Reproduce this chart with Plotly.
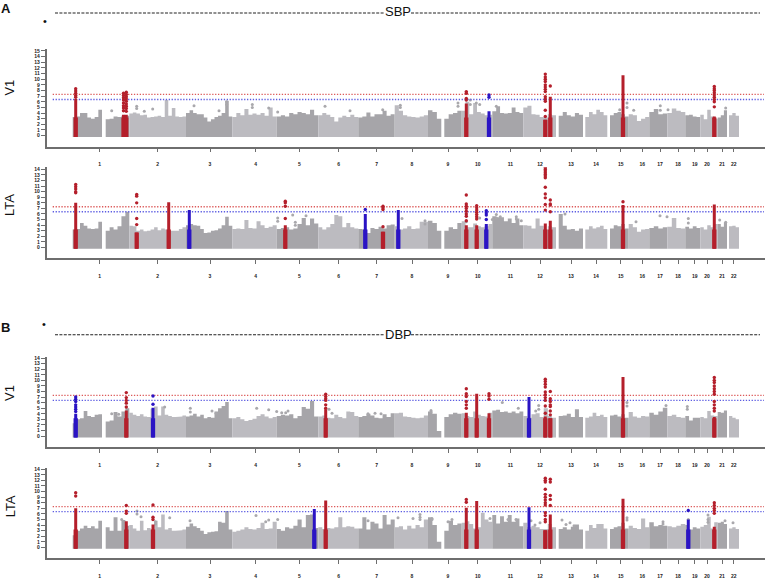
import numpy as np
import plotly.graph_objects as go

# genome scale: chromosome blocks (start, end, shade)
BLOCK_START = [72.7,105.7,129.3,186,232.3,276.7,318.3,358.3,394.7,428,444.3,461.7,492.3,523.3,558.7,585.3,610,628.7,649.3,667.3,685.3,700.3,717.7,729]
BLOCK_END = [102,129.3,186,232.3,276.7,318.3,358.3,394.7,428,441.3,461.7,492.3,523.3,556,583,607.3,628.7,649.3,667.3,685.3,700.3,717.7,727,739]
BLOCK_SHADE = [0,0,1,0,1,0,1,0,1,0,0,1,0,1,0,1,0,1,0,1,0,1,0,1]

CHROM_LABELS = [str(i) for i in range(1, 23)]
CHROM_TICKS = [99.7,157.7,210,255.7,299.3,338.7,376.7,412,448,477.7,510.3,540,571,596,620.7,642.3,660,678,694.7,707,722,733.7]

SIG_LINE = 7.3
SUG_LINE = 6.4
PEAK_FOOT = 3.2

# Panel A, V1
sky_a1 = [
 [3.3,3.4,4.0,4.0,3.2,3.0,3.3,4.6],
 [2.9,3.0,3.4,3.3,3.5,3.5],
 [3.9,4.1,3.9,3.6,3.7,3.2,3.3,3.4,3.5,3.3,6.3,3.5,4.9,3.4,3.3,3.4],
 [4.0,4.5,4.0,3.8,3.8,3.2,2.5,2.9,3.3,3.5,4.0,6.2,3.4],
 [3.3,4.0,3.6,4.7,3.7,3.9,3.7,4.0,3.5,5.0,3.4],
 [3.4,3.6,3.4,4.0,3.8,4.2,4.0,3.8,4.6,3.6],
 [3.6,4.0,3.7,3.3,2.5,3.2,3.5,3.3,3.7,3.3],
 [3.2,3.4,4.1,3.4,3.8,3.8,4.4,3.5,3.8],
 [5.4,4.4,3.6,3.4,3.3,3.2,3.4,3.6],
 [4.5,4.2,3.0],
 [3.0,3.8,4.0,4.4],
 [4.4,6.0,3.8,5.8,4.2,3.9,3.6,3.7],
 [4.3,5.2,4.0,3.9,4.0,5.0,4.2,4.0],
 [5.0,5.3,3.8,3.7,3.3,3.2,3.8,3.6],
 [3.5,4.2,3.6,3.4,4.0,3.7],
 [3.3,4.2,3.8,4.6,4.2,3.6],
 [3.6,4.0,4.2,3.8,3.4],
 [3.8,3.6,2.6,3.0,3.3],
 [4.2,4.7,3.8,3.9],
 [4.0,4.8,4.4,4.2],
 [3.6,3.7,3.4,3.3],
 [3.7,2.9,4.6,3.4,3.0],
 [3.2,3.6,4.5],
 [3.6,4.0,3.5],
]
out_a1_x = [111.7,136.7,136.7,144.3,152.7,194,219,226.7,226.7,252.3,252.3,268.7,277.7,325,350,382.7,400.3,400.3,458,458,470.3,470.3,476.3,479.7,496.3,619.7,627,627,633.7,660.3,660.3,668,725.7]
out_a1_y = [4.4,5.2,4.8,4.3,4.7,5.3,4.4,5.5,6.0,5.5,5.0,4.9,4.2,5.2,4.4,4.6,5.4,5.0,5.8,5.2,6.3,5.5,5.8,5.5,5.2,4.6,5.8,5.0,4.5,5.3,4.5,4.6,4.9]
peak_a1_x = [75.7,123.5,126.3,466.3,489,545.3,550.3,623,714.3]
peak_a1_solid = [6.5,3.7,3.7,5.7,4.3,2.8,6.9,10.7,3.4]
peak_a1_group = [1,1,1,1,0,1,1,1,1]
peak_a1_dots = [[8.3,7.9,7.5,7.1,6.8],[7.5,7.1,6.7,6.3,5.8,5.3,4.9,4.4],[7.7,7.3,6.9,6.5,6.1,5.6,5.2,4.8,4.3],[7.8,7.5,6.6,6.3],[7.2,6.8],[10.9,10.4,10.0,9.6,9.0,8.6,8.2,7.8,6.9,6.5,6.1,4.5,3.4],[8.8],[],[8.7,8.3,8.0,7.6,7.2,6.8,6.4,6.0,5.1]]

# Panel A, LTA
sky_a2 = [
 [3.2,3.3,4.4,3.9,3.4,3.3,3.4,4.6],
 [3.0,3.6,3.2,3.8,5.6,6.4],
 [3.9,3.8,3.0,3.2,2.9,3.0,3.2,3.6,3.1,3.4,3.2,3.0,3.0,3.0,3.3,3.6],
 [4.0,4.2,4.0,3.9,3.3,2.6,2.7,3.0,3.1,3.4,4.0,5.5,3.9],
 [3.3,3.4,3.3,4.9,3.5,3.4,4.7,4.0,3.5,3.7,4.0],
 [3.3,3.5,3.6,3.2,3.4,4.2,5.3,4.0,5.2,4.3],
 [3.6,3.2,3.6,4.2,5.8,5.6,3.6,4.4,3.6,3.4],
 [3.3,3.2,2.6,3.5,3.3,3.7,3.4,4.0,4.1],
 [3.8,3.2,3.4,3.8,3.3,3.4,4.6,4.6],
 [4.8,4.4,3.0],
 [3.0,3.6,3.3,4.4],
 [4.7,3.6,3.6,4.3,3.8,3.6,3.8,4.2],
 [5.6,5.4,5.4,4.7,5.2,4.4,5.2,4.0],
 [4.0,3.9,3.4,5.2,3.9,3.2,3.8,3.6],
 [6.0,3.9,3.2,3.3,3.0,3.4],
 [3.2,3.8,3.4,3.6,3.9,3.3],
 [3.4,4.0,3.8,4.2,3.4],
 [4.2,3.6,2.8,3.2,3.3],
 [3.5,3.8,3.4,3.6],
 [3.7,5.3,3.5,3.4],
 [3.7,3.4,3.8,3.5],
 [3.6,3.2,4.0,3.6,4.2],
 [4.2,3.7,4.5],
 [3.8,3.9,3.6],
]
out_a2_x = [277.7,277.7,292.7,295.3,295.3,306,402,425,425,466.3,479.7,492.3,496.3,496.3,500.3,516.3,516.3,521.3,565,636,660,667,688.3,688.3,719.7,725.7]
out_a2_y = [5.3,4.7,5.8,4.5,4.0,5.7,5.2,4.8,4.2,4.6,5.3,5.0,5.9,5.3,5.5,5.5,5.1,4.8,6.0,4.6,5.7,5.5,5.2,4.4,4.9,4.5]
peak_a2_x = [75.7,136.7,168.7,189.3,285.3,365.3,383,398.3,466.3,476.7,486.3,545.3,550.3,623,714.3]
peak_a2_solid = [8.0,2.7,8.1,6.7,4.0,6.0,2.8,6.7,4.0,4.0,4.2,4.3,4.8,7.6,7.7]
peak_a2_group = [1,1,1,0,1,0,1,0,1,1,0,1,1,1,1]
peak_a2_dots = [[11.3,10.9,10.5,10.0,9.8],[9.5,9.2,8.0,5.2,4.1],[],[],[8.3,8.0,7.4,5.2],[6.8],[7.4,7.1,6.8,3.7],[],[9.4,7.8,7.4,7.0,6.5,6.0,5.6,4.8],[7.5,7.1,6.7,6.3,5.9,5.5,5.1],[6.6,6.2,5.8,5.0],[14.3,14.0,13.7,13.4,13.1,12.8,12.5,10.8,9.6,8.9,7.7,6.7],[8.5,7.8,7.6,6.4],[8.2],[]]

# Panel B, V1
sky_b1 = [
 [2.3,3.0,3.2,4.5,3.6,3.4,3.8,3.9],
 [2.6,2.8,4.3,3.5,4.4,5.0],
 [4.2,3.8,3.6,3.9,3.5,3.4,4.9,5.3,3.7,5.3,3.8,3.6,3.4,3.4,3.5,3.7],
 [3.5,3.7,4.0,3.5,3.8,3.2,3.4,3.3,4.4,5.0,5.4,6.1,3.2],
 [3.2,3.4,3.0,2.7,2.9,3.1,3.6,3.9,3.5,3.2,3.4],
 [3.6,3.8,3.7,3.9,3.2,3.6,5.2,4.9,6.3,3.5],
 [3.5,3.7,3.3,3.2,3.8,3.4,3.2,4.4,4.3,3.6],
 [3.4,3.6,4.0,3.7,3.3,3.2,3.9,3.4,4.1],
 [4.1,4.2,3.5,3.4,3.3,3.2,3.3,3.7],
 [4.4,4.0,0.9],
 [3.4,3.9,4.2,4.0],
 [4.1,3.6,3.4,4.4,3.8,3.6,3.5,4.2],
 [4.6,4.7,4.3,4.4,4.2,4.4,4.1,4.4],
 [3.6,3.3,3.9,4.1,3.4,5.0,3.6,3.3],
 [3.6,3.7,4.0,3.4,4.8,3.4],
 [3.3,3.5,4.2,3.6,3.8,3.4],
 [3.7,3.8,3.5,3.9,3.3],
 [4.3,3.5,3.3,3.6,3.5],
 [4.2,3.8,4.4,5.1],
 [3.6,3.8,3.4,3.3],
 [3.6,2.8,3.3,3.3],
 [3.4,3.2,4.5,3.7,3.6],
 [4.3,4.2,4.6],
 [3.6,3.3,3.0],
]
out_b1_x = [111.7,118.7,164.7,190.3,190.3,212,216,256.7,268.7,276.7,281.7,285.7,288,329,332,368,375,381,431,431,502.3,518.3,535.7,538.7,538.7,627,627,666,687.3,687.3]
out_b1_y = [4.0,3.9,5.2,5.0,4.3,4.5,4.1,5.0,4.7,4.4,4.2,4.2,4.5,4.8,4.1,4.0,4.1,4.0,4.6,4.3,6.0,5.0,4.5,5.5,4.8,6.0,5.4,5.5,5.3,4.8]
peak_b1_x = [75.7,126.3,153,325.7,466.3,476.7,489,529,545.3,550.3,623,714.3]
peak_b1_solid = [4.0,4.6,5.1,4.8,4.2,7.6,4.1,7.0,3.5,3.2,10.6,3.4]
peak_b1_group = [0,1,0,1,1,1,1,0,1,1,1,1]
peak_b1_dots = [[7.0,6.6,6.2,5.6,5.2,4.8,4.4],[7.8,6.9,6.4,5.9,5.2],[7.2,5.7],[7.5,7.1,6.7,6.4,5.6,5.0],[8.5,7.6,7.1,6.2,5.6,5.0],[],[7.6,7.2,6.6],[],[10.2,9.8,9.3,8.8,7.9,7.4,6.9,6.4,5.4,4.1],[8.0,6.7,6.2,5.6,5.3,4.5,3.8],[],[10.5,10.0,9.6,9.0,8.5,8.0,7.5,6.2,5.6,5.0,4.5]]

# Panel B, LTA
sky_b2 = [
 [2.2,3.0,3.4,3.9,3.5,3.8,3.4,4.8],
 [3.6,3.0,5.4,3.0,4.9,3.9],
 [4.0,3.4,3.0,4.8,3.1,3.5,3.2,4.8,3.6,5.9,3.2,3.5,3.0,3.0,3.1,3.2],
 [3.7,4.3,3.8,3.5,3.0,2.4,2.7,2.8,2.9,4.6,4.4,6.5,3.2],
 [2.8,3.0,3.2,3.6,3.3,3.2,3.5,4.4,3.3,3.4,4.6],
 [3.3,3.0,3.6,3.4,3.9,5.0,3.6,5.8,5.9,3.5],
 [3.6,3.3,3.5,3.4,3.6,5.4,3.6,3.8,3.7,3.4],
 [3.4,5.4,3.2,4.6,4.3,3.4,5.8,4.1,5.0],
 [3.6,3.8,3.2,3.9,3.4,4.0,3.6,5.0],
 [5.4,4.0,1.0],
 [3.0,4.8,4.0,4.3],
 [4.4,4.7,4.2,3.4,3.6,6.2,5.0,4.6],
 [5.8,4.3,5.6,4.6,5.8,4.6,5.2,3.8],
 [4.4,3.6,3.9,3.6,3.3,3.3,4.2,3.6],
 [3.3,3.6,3.2,3.7,4.1,3.2],
 [3.0,4.0,3.5,4.2,4.2,3.4],
 [3.3,3.6,3.8,4.4,3.4],
 [3.9,3.5,3.3,5.2,3.6],
 [4.5,3.8,4.0,3.9],
 [3.8,3.6,3.9,4.2],
 [4.0,3.2,3.6,3.4],
 [3.7,4.0,5.5,3.4,4.5],
 [4.4,4.6,4.2],
 [3.4,3.6,3.3],
]
out_b2_x = [121.7,137,137,141,155.5,155.5,169.7,190,256,265.7,268.7,277.7,368,398,413,420,420,420,432,432,452,448,490,508,516,531,535,540,562,566,570,574,627,627,663,663,688.3,708,708,708,725,733]
out_b2_y = [5.0,6.5,6.0,5.5,4.6,4.2,5.3,4.8,5.7,4.6,4.9,5.0,4.8,5.3,5.2,5.9,5.4,5.0,5.2,5.0,5.0,4.6,5.2,5.0,5.0,4.8,4.0,4.4,4.9,4.1,4.4,3.9,5.3,4.9,4.6,4.2,5.0,5.8,5.0,4.5,4.8,4.4]
peak_b2_x = [75.7,126.3,153,314.3,325.7,466.3,476.7,529,545.3,550.3,623,688.3,714.3]
peak_b2_solid = [7.0,4.7,4.1,6.9,8.4,7.1,8.3,7.2,3.1,5.9,8.7,5.0,3.7]
peak_b2_group = [1,1,1,0,1,1,1,0,1,1,1,0,1]
peak_b2_dots = [[9.8,9.2],[7.5,6.5,6.1],[7.6,5.4,5.0],[],[],[8.6,8.1],[],[],[12.4,12.0,11.7,10.4,9.5,9.0,8.5,8.0,7.6,6.2,5.7,5.0,4.6],[12.2,11.7,9.3,8.6,7.5],[],[6.6],[8.0,7.5,7.0,6.6,6.1]]

PANELS = [
 dict(sky=sky_a1, ox=out_a1_x, oy=out_a1_y, px=peak_a1_x, ps=peak_a1_solid, pg=peak_a1_group, pd=peak_a1_dots, bottom=145.5, top=47, zero=134.3, unit=5.67, maxtick=15),
 dict(sky=sky_a2, ox=out_a2_x, oy=out_a2_y, px=peak_a2_x, ps=peak_a2_solid, pg=peak_a2_group, pd=peak_a2_dots, bottom=257.7, top=166, zero=246.7, unit=5.6, maxtick=14),
 dict(sky=sky_b1, ox=out_b1_x, oy=out_b1_y, px=peak_b1_x, ps=peak_b1_solid, pg=peak_b1_group, pd=peak_b1_dots, bottom=447.3, top=356.7, zero=436.3, unit=5.6, maxtick=14),
 dict(sky=sky_b2, ox=out_b2_x, oy=out_b2_y, px=peak_b2_x, ps=peak_b2_solid, pg=peak_b2_group, pd=peak_b2_dots, bottom=559.3, top=468, zero=548.3, unit=5.62, maxtick=14),
]

W, H = 766, 579
X0, X1 = 46.5, 765
SHADES = ["#a6a5a9", "#bcbbc0"]
GROUP_COL = ["#2b14c4", "#b41f2b"]
AXIS_COL = "#6e6e6e"
BASE = -0.25

fig = go.Figure()
layout = dict(width=W, height=H, margin=dict(l=0, r=0, t=0, b=0), autosize=False,
              paper_bgcolor="white", plot_bgcolor="white", showlegend=False,
              annotations=[], shapes=[])

for i, p in enumerate(PANELS):
    n = "" if i == 0 else str(i + 1)
    xa, ya = "x" + n, "y" + n
    # skyline of the mass of non-significant points, one filled step outline per block
    for k, vals in enumerate(p["sky"]):
        e = np.linspace(BLOCK_START[k], BLOCK_END[k], len(vals) + 1)
        sx, sy = [e[0]], [BASE]
        for j, v in enumerate(vals):
            sx += [e[j], e[j + 1]]
            sy += [v, v]
        sx.append(e[-1]); sy.append(BASE)
        fig.add_scatter(x=sx, y=sy, mode="lines", fill="toself", fillcolor=SHADES[BLOCK_SHADE[k]],
                        line=dict(width=0), xaxis=xa, yaxis=ya, hoverinfo="skip")
    # outlying grey points
    fig.add_scatter(x=p["ox"], y=p["oy"], mode="markers", marker=dict(size=3, color="#a9a8ac"), xaxis=xa, yaxis=ya)
    # threshold lines
    for val, col in ((SIG_LINE, "#dc5a5a"), (SUG_LINE, "#5c5ce2")):
        fig.add_scatter(x=[52.7, 764], y=[val, val], mode="lines", line=dict(color=col, width=1.3, dash="1.3px 1.6px"), xaxis=xa, yaxis=ya)
    # significant loci: wide foot, narrower shaft, separate dots
    for g, col in enumerate(GROUP_COL):
        fx, fy, tx, ty = [], [], [], []
        for x, s, gg in zip(p["px"], p["ps"], p["pg"]):
            if gg == g:
                fx += [x, x, None]; fy += [BASE, min(s, PEAK_FOOT), None]
                tx += [x, x, None]; ty += [BASE, s, None]
        fig.add_scatter(x=fx, y=fy, mode="lines", line=dict(color=col, width=4.3), xaxis=xa, yaxis=ya)
        fig.add_scatter(x=tx, y=ty, mode="lines", line=dict(color=col, width=3), xaxis=xa, yaxis=ya)
    dx, dy, dc = [], [], []
    for x, g, ds in zip(p["px"], p["pg"], p["pd"]):
        dx += [x] * len(ds); dy += ds; dc += [GROUP_COL[g]] * len(ds)
    fig.add_scatter(x=dx, y=dy, mode="markers", marker=dict(size=3.4, color=dc), xaxis=xa, yaxis=ya)

    lo = -(p["bottom"] - p["zero"]) / p["unit"]
    hi = (p["zero"] - p["top"]) / p["unit"]
    tf = dict(family="Liberation Sans", size=5, color="#222222", weight="bold")
    layout["xaxis" + n] = dict(domain=[X0 / W, X1 / W], range=[X0, X1], anchor=ya,
        tickmode="array", tickvals=CHROM_TICKS, ticktext=CHROM_LABELS, ticks="outside", ticklen=4, tickwidth=1,
        tickcolor=AXIS_COL, showline=True, linecolor=AXIS_COL, linewidth=1.5, showgrid=False, zeroline=False,
        tickfont=tf, tickangle=0, ticklabelstandoff=8, fixedrange=True)
    layout["yaxis" + n] = dict(domain=[1 - p["bottom"] / H, 1 - p["top"] / H], range=[lo, hi], anchor=xa,
        tickmode="array", tickvals=list(range(0, p["maxtick"] + 1)), ticks="outside", ticklen=4, tickwidth=1,
        tickcolor=AXIS_COL, showline=True, linecolor=AXIS_COL, linewidth=1.5, showgrid=False, zeroline=False,
        tickfont=tf, fixedrange=True)


def txt(x, y, s, size=12, bold=False, angle=0):
    layout["annotations"].append(dict(xref="paper", yref="paper", x=x / W, y=1 - y / H, text=s, showarrow=False,
        xanchor="center", yanchor="middle", textangle=angle,
        font=dict(family="Liberation Sans", size=size, color="#111111", weight="bold" if bold else "normal")))


def rule(x0, x1, y):
    layout["shapes"].append(dict(type="line", xref="paper", yref="paper", x0=x0 / W, x1=x1 / W, y0=1 - y / H, y1=1 - y / H,
        line=dict(color="#222222", width=1.1, dash="3px 1.4px")))


txt(6, 7, "A", 13, True)
txt(6, 327, "B", 13, True)
txt(398, 10, "SBP", 13)
txt(398, 334, "DBP", 13)
rule(55, 385, 11); rule(411, 760, 11)
rule(55, 385, 334.5); rule(411, 760, 334.5)
txt(10, 86, "V1", 13, angle=-90)
txt(10, 204, "LTA", 13, angle=-90)
txt(10, 393, "V1", 13, angle=-90)
txt(10, 507, "LTA", 13, angle=-90)
txt(44.5, 19, "•", 11)
txt(44, 324, "•", 11)

fig.update_layout(**layout)
fig.write_html("out.html", config=dict(displayModeBar=False), post_script="document.body.style.margin='0';")
